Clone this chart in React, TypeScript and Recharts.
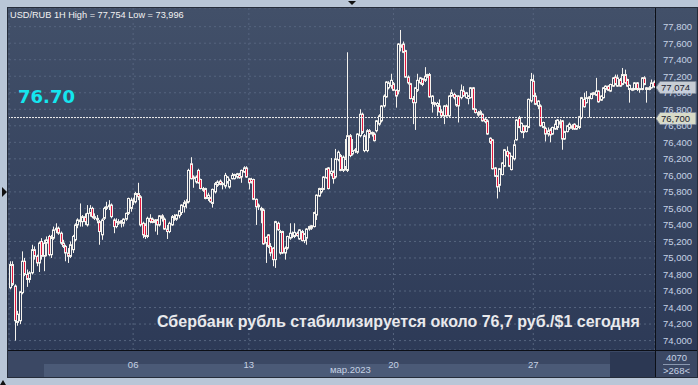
import React from 'react';
import { ComposedChart, Bar, XAxis, YAxis, CartesianGrid, ReferenceLine } from 'recharts';

// hourly candles, [open, high, low, close]
const feb27: number[][] = [
  [74.64, 74.96, 74.62, 74.92], [74.92, 74.96, 74.66, 74.68], [74.66, 74.68, 74.0, 74.24], [74.22, 74.36, 74.18, 74.32],
  [74.24, 74.6, 74.2, 74.59], [74.58, 75.08, 74.56, 74.96], [74.96, 75.0, 74.78, 74.8], [74.8, 74.86, 74.65, 74.74],
  [74.74, 74.84, 74.7, 74.82], [74.82, 75.16, 74.8, 75.1], [75.1, 75.14, 74.98, 75.02], [75.02, 75.04, 74.9, 74.94],
  [74.94, 75.2, 74.83, 75.18], [75.2, 75.24, 74.98, 75.02], [75.02, 75.22, 74.84, 75.18], [75.18, 75.26, 75.02, 75.22],
  [75.26, 75.28, 75.02, 75.04], [75.04, 75.28, 75.0, 75.24], [75.24, 75.38, 75.22, 75.34], [75.34, 75.42, 75.3, 75.36],
  [75.36, 75.38, 75.28, 75.3], [75.3, 75.32, 75.16, 75.18], [75.18, 75.22, 75.12, 75.14], [75.14, 75.16, 74.96, 75.06],
  [75.06, 75.12, 74.94, 75.02], [75.02, 75.2, 75.0, 75.16], [75.1, 75.28, 75.06, 75.26], [75.22, 75.42, 75.2, 75.4],
  [75.4, 75.48, 75.36, 75.46], [75.46, 75.66, 75.38, 75.44], [75.44, 75.52, 75.38, 75.5], [75.5, 75.54, 75.4, 75.44],
  [75.4, 75.64, 75.38, 75.54], [75.54, 75.64, 75.5, 75.6], [75.6, 75.62, 75.48, 75.5], [75.5, 75.54, 75.46, 75.48],
  [75.48, 75.52, 75.42, 75.46], [75.44, 75.46, 75.16, 75.32], [75.28, 75.48, 75.22, 75.46], [75.48, 75.62, 75.46, 75.6],
  [75.6, 75.68, 75.58, 75.62], [75.62, 75.7, 75.58, 75.64], [75.64, 75.66, 75.48, 75.5], [75.46, 75.48, 75.3, 75.38],
  [75.38, 75.48, 75.36, 75.44], [75.44, 75.47, 75.4, 75.42], [75.42, 75.46, 75.37, 75.45], [75.42, 75.48, 75.38, 75.47],
  [75.47, 75.55, 75.45, 75.54], [75.54, 75.73, 75.52, 75.72], [75.6, 75.73, 75.56, 75.7],
];

const mar06: number[][] = [
  [75.7, 75.73, 75.64, 75.68], [75.68, 75.8, 75.66, 75.78], [75.78, 75.91, 75.7, 75.74], [75.74, 75.76, 75.38, 75.4],
  [75.42, 75.44, 75.24, 75.28], [75.4, 75.42, 75.23, 75.26], [75.26, 75.5, 75.24, 75.48], [75.48, 75.53, 75.42, 75.44],
  [75.47, 75.49, 75.42, 75.43], [75.43, 75.47, 75.32, 75.46], [75.46, 75.47, 75.28, 75.4], [75.4, 75.52, 75.38, 75.51],
  [75.51, 75.53, 75.44, 75.48], [75.47, 75.49, 75.34, 75.35], [75.35, 75.4, 75.23, 75.32], [75.32, 75.44, 75.3, 75.42],
  [75.4, 75.52, 75.39, 75.5], [75.5, 75.53, 75.45, 75.47], [75.47, 75.53, 75.45, 75.52], [75.51, 75.58, 75.48, 75.57],
  [75.55, 75.65, 75.52, 75.64], [75.62, 75.7, 75.55, 75.67], [75.67, 75.71, 75.6, 75.68], [75.68, 76.08, 75.66, 76.06],
  [76.14, 76.22, 75.95, 75.96], [75.96, 76.0, 75.85, 75.98], [75.92, 76.0, 75.9, 75.98], [76.06, 76.08, 75.9, 75.91],
  [75.95, 75.96, 75.83, 75.84], [75.84, 75.86, 75.8, 75.82], [75.84, 75.85, 75.71, 75.72], [75.72, 75.79, 75.69, 75.76],
  [75.73, 75.74, 75.67, 75.68], [75.66, 75.84, 75.61, 75.83], [75.8, 75.92, 75.78, 75.9], [75.88, 75.94, 75.86, 75.92],
  [75.93, 75.95, 75.88, 75.89], [75.89, 75.92, 75.83, 75.9], [75.87, 76.03, 75.84, 76.0], [75.92, 75.99, 75.9, 75.98],
  [75.86, 75.96, 75.84, 75.94], [75.96, 76.03, 75.95, 76.0], [75.96, 76.02, 75.95, 76.01], [75.98, 76.03, 75.96, 76.02],
  [76.01, 76.03, 75.96, 75.97], [75.98, 76.07, 75.91, 76.06], [76.04, 76.11, 76.03, 76.09], [76.09, 76.11, 75.97, 75.98],
];

const mar13: number[][] = [
  [75.96, 75.97, 75.83, 75.91], [75.95, 75.97, 75.9, 75.92], [75.95, 75.96, 75.7, 75.71], [75.71, 75.72, 75.4, 75.62],
  [75.62, 75.66, 75.58, 75.64], [75.6, 75.62, 75.42, 75.58], [75.58, 75.6, 75.16, 75.17], [75.18, 75.26, 74.94, 75.25],
  [75.28, 75.29, 75.12, 75.14], [75.14, 75.18, 75.02, 75.06], [75.12, 75.13, 74.9, 74.98], [74.98, 75.45, 74.88, 75.44],
  [75.42, 75.44, 75.33, 75.34], [75.06, 75.34, 75.04, 75.32], [75.32, 75.33, 75.05, 75.06], [75.06, 75.14, 74.98, 75.12],
  [75.12, 75.27, 75.1, 75.26], [75.24, 75.42, 75.22, 75.3], [75.28, 75.32, 75.24, 75.26], [75.26, 75.42, 75.24, 75.31],
  [75.3, 75.32, 75.26, 75.27], [75.23, 75.35, 75.22, 75.34], [75.32, 75.34, 75.2, 75.21], [75.21, 75.3, 75.18, 75.29],
  [75.24, 75.36, 75.16, 75.35], [75.35, 75.39, 75.33, 75.38], [75.36, 75.4, 75.34, 75.39], [75.38, 75.56, 75.37, 75.55],
  [75.52, 75.77, 75.46, 75.76], [75.75, 75.85, 75.74, 75.84], [75.8, 75.85, 75.78, 75.84], [75.83, 75.99, 75.82, 75.98],
  [75.97, 76.09, 75.96, 76.08], [76.09, 76.1, 75.83, 75.84], [76.02, 76.21, 75.99, 76.05], [76.04, 76.06, 75.9, 75.96],
  [75.98, 76.32, 75.96, 76.2], [76.19, 76.3, 76.17, 76.28], [76.24, 76.26, 76.05, 76.06], [76.06, 76.24, 76.04, 76.22],
  [76.1, 76.44, 76.06, 76.2], [76.06, 77.49, 76.04, 76.48], [76.48, 76.5, 76.22, 76.24], [76.26, 76.44, 76.24, 76.3],
  [76.3, 76.33, 76.27, 76.31], [76.28, 76.51, 76.26, 76.5], [76.48, 76.8, 76.46, 76.74], [76.74, 76.76, 76.5, 76.52],
  [76.3, 76.5, 76.28, 76.48], [76.3, 76.56, 76.28, 76.54], [76.54, 76.56, 76.45, 76.5], [76.5, 76.53, 76.47, 76.52],
  [76.5, 76.52, 76.41, 76.42], [76.54, 76.67, 76.52, 76.66], [76.62, 76.74, 76.6, 76.72], [76.66, 76.85, 76.64, 76.84],
  [76.84, 76.98, 76.82, 76.96], [76.95, 77.14, 76.94, 77.13], [77.06, 77.14, 77.04, 77.12], [77.08, 77.23, 77.05, 77.15],
];

const mar20: number[][] = [
  [77.11, 77.13, 77.02, 77.03], [77.03, 77.04, 76.82, 76.96], [77.02, 77.6, 76.98, 77.59], [77.55, 77.76, 77.5, 77.58],
  [77.59, 77.62, 77.48, 77.49], [77.51, 77.52, 77.18, 77.19], [77.19, 77.21, 77.1, 77.12], [77.11, 77.12, 76.92, 76.93],
  [76.93, 76.96, 76.62, 76.88], [76.88, 77.07, 76.55, 77.06], [77.03, 77.23, 77.01, 77.15], [77.12, 77.19, 77.1, 77.18],
  [77.17, 77.18, 77.08, 77.1], [77.15, 77.31, 77.13, 77.2], [77.2, 77.23, 77.18, 77.22], [77.22, 77.24, 76.94, 76.95],
  [76.87, 76.97, 76.76, 76.96], [76.88, 76.89, 76.83, 76.86], [76.84, 76.89, 76.72, 76.87], [76.84, 76.92, 76.76, 76.77],
  [76.77, 76.8, 76.7, 76.72], [76.72, 76.85, 76.62, 76.84], [76.84, 76.86, 76.71, 76.72], [76.72, 76.97, 76.7, 76.96],
  [76.96, 77.04, 76.95, 77.0], [76.98, 77.0, 76.92, 76.94], [76.85, 76.97, 76.83, 76.96], [76.96, 76.97, 76.64, 76.84],
  [76.94, 77.1, 76.92, 77.03], [77.02, 77.08, 76.95, 76.96], [76.94, 77.01, 76.93, 77.0], [76.93, 76.97, 76.86, 76.96],
  [76.94, 77.07, 76.93, 77.06], [77.06, 77.07, 76.79, 76.8], [76.8, 76.81, 76.75, 76.76], [76.76, 76.78, 76.71, 76.73],
  [76.74, 76.79, 76.73, 76.77], [76.74, 76.75, 76.65, 76.66], [76.68, 76.7, 76.63, 76.65], [76.66, 76.68, 76.49, 76.5],
  [76.45, 76.46, 76.38, 76.4], [76.43, 76.44, 76.07, 76.08], [76.09, 76.1, 75.98, 75.99], [75.99, 76.0, 75.72, 75.86],
  [75.88, 76.09, 75.8, 76.08], [76.01, 76.16, 76.0, 76.15], [76.11, 76.32, 76.1, 76.31], [76.29, 76.35, 76.22, 76.24],
  [76.27, 76.28, 76.1, 76.11], [76.07, 76.24, 76.06, 76.23], [76.2, 76.43, 76.18, 76.37], [76.43, 76.68, 76.42, 76.67],
  [76.7, 76.72, 76.57, 76.58], [76.53, 76.64, 76.51, 76.63], [76.6, 76.61, 76.45, 76.52], [76.53, 76.61, 76.52, 76.6],
  [76.58, 76.93, 76.57, 76.92], [76.9, 77.24, 76.88, 77.16],
];

const mar27: number[][] = [
  [77.14, 77.22, 76.95, 76.96], [76.96, 77.0, 76.85, 76.86], [76.84, 76.91, 76.8, 76.9], [76.84, 76.86, 76.59, 76.6],
  [76.58, 76.65, 76.57, 76.64], [76.57, 76.59, 76.41, 76.5], [76.5, 76.58, 76.47, 76.54], [76.55, 76.57, 76.4, 76.49],
  [76.5, 76.59, 76.49, 76.58], [76.56, 76.67, 76.55, 76.62], [76.58, 76.68, 76.55, 76.67], [76.62, 76.68, 76.57, 76.65],
  [76.66, 76.67, 76.31, 76.44], [76.44, 76.54, 76.43, 76.53], [76.53, 76.61, 76.52, 76.6], [76.57, 76.64, 76.55, 76.62],
  [76.6, 76.62, 76.55, 76.57], [76.62, 76.63, 76.55, 76.56], [76.56, 76.61, 76.55, 76.6], [76.58, 76.72, 76.56, 76.71],
  [76.7, 76.95, 76.68, 76.94], [76.92, 77.0, 76.82, 76.83], [76.88, 77.02, 76.87, 76.94], [76.93, 76.96, 76.7, 76.95],
  [76.93, 77.0, 76.92, 76.99], [76.98, 77.01, 76.97, 77.0], [76.97, 77.18, 76.96, 77.02], [77.02, 77.03, 76.88, 76.89],
  [76.91, 76.97, 76.9, 76.96], [76.94, 77.07, 76.93, 77.06], [77.04, 77.09, 77.0, 77.08], [77.08, 77.09, 77.02, 77.03],
  [77.02, 77.11, 77.01, 77.1], [77.08, 77.19, 77.07, 77.18], [77.19, 77.22, 77.09, 77.1], [77.08, 77.22, 77.07, 77.18],
  [77.16, 77.18, 77.07, 77.08], [77.1, 77.3, 77.09, 77.22], [77.22, 77.28, 77.11, 77.12], [77.16, 77.17, 77.07, 77.08],
  [77.04, 77.1, 76.88, 77.09], [77.03, 77.06, 77.02, 77.05], [77.04, 77.13, 77.03, 77.12], [77.12, 77.13, 77.02, 77.04],
  [77.04, 77.06, 77.0, 77.05], [77.04, 77.19, 77.03, 77.18], [77.18, 77.2, 77.09, 77.1], [77.06, 77.07, 76.88, 77.04],
  [77.04, 77.08, 77.03, 77.06], [77.06, 77.16, 77.05, 77.12], [77.13, 77.15, 77.06, 77.07],
];

const dateTicks = [51, 99, 159, 217];
const dateLabels = ['06', '13', '20', '27'];
const priceTicks = [
  74.0, 74.2, 74.4, 74.6, 74.8, 75.0, 75.2, 75.4, 75.6, 75.8,
  76.0, 76.2, 76.4, 76.6, 76.8, 77.0, 77.2, 77.4, 77.6, 77.8,
];
const lastPrice = 77.074;
const markPrice = 76.7;

const candles = [...feb27, ...mar06, ...mar13, ...mar20, ...mar27].map(([o, h, l, c], i) => ({ i, o, h, l, c }));

const AXIS_FONT = '"Liberation Sans", Arial, sans-serif';
const labelColor = '#c6d2e5';

const Candle = (props: any) => {
  const { x, y, width, height, payload } = props;
  const { o, h, l, c } = payload;
  const top = Math.min(y, y + height);
  const span = Math.abs(height);
  const cx = Math.round(x + width / 2) + 0.5;
  const py = (v: number) => top + ((h - v) / (h - l)) * span;
  const bTop = py(Math.max(o, c));
  const bBot = py(Math.min(o, c));
  const down = c < o;
  return (
    <g>
      <line x1={cx} x2={cx} y1={top} y2={top + span} stroke="#f5f3ee" strokeWidth={1} />
      <rect x={cx - 1} y={bTop} width={2} height={Math.max(bBot - bTop, 1)}
        fill={down ? '#e3173e' : '#34415d'} stroke="#f5f3ee" strokeWidth={1} />
    </g>
  );
};

const PriceTag = (props: any) => {
  const { viewBox, text, fill } = props;
  const x = viewBox.x + viewBox.width;
  const y = Math.round(viewBox.y) + 0.5;
  return (
    <g>
      <path d={`M${x + 1} ${y} L${x + 5} ${y - 6} H${x + 41} V${y + 6} H${x + 5} Z`} fill={fill} stroke="#7d8798" />
      <text x={x + 6} y={y + 3.5} fontSize={9.5} fill="#1c2130" fontFamily={AXIS_FONT}>{text}</text>
    </g>
  );
};

export default function App() {
  return (
    <div style={{ position: 'absolute', left: 0, top: 0, width: 698, height: 385, background: '#b9c6d7', overflow: 'hidden', fontFamily: AXIS_FONT }}>
      {/* panel backgrounds */}
      <div style={{ position: 'absolute', left: 7, top: 7, width: 689, height: 343, background: 'linear-gradient(to bottom, #425069, #2d3a57)', border: '1px solid #252c3a', borderBottom: 'none' }} />
      <div style={{ position: 'absolute', left: 7, top: 350, width: 689, height: 27, background: '#3b4864', border: '1px solid #252c3a', borderTop: 'none' }} />
      <div style={{ position: 'absolute', left: 44, top: 364, width: 566, height: 13, background: '#4b5a77' }} />
      <div style={{ position: 'absolute', left: 610, top: 352, width: 45, height: 25, background: '#2c3853' }} />

      <div style={{ position: 'absolute', left: 8, top: 8 }}>
        <ComposedChart width={690} height={370} data={candles} margin={{ top: 0, right: 0, bottom: 0, left: 1 }}>
          <CartesianGrid stroke="#56657f" strokeDasharray="2 3" />
          <XAxis dataKey="i" type="number" domain={[-0.5, 267.5]} allowDataOverflow ticks={dateTicks}
            tickFormatter={(v: number) => dateLabels[dateTicks.indexOf(v)]} interval={0}
            height={28} axisLine={false} tickLine={false} tickMargin={5}
            tick={{ fill: labelColor, fontSize: 9.5, fontFamily: AXIS_FONT }} />
          <YAxis orientation="right" width={43} type="number" domain={[73.886, 78.026]} allowDataOverflow
            ticks={priceTicks} interval={0} axisLine={false} tickLine={false} tickMargin={2}
            tickFormatter={(v: number) => v.toFixed(3).replace('.', ',')}
            tick={{ fill: labelColor, fontSize: 9.5, fontFamily: AXIS_FONT }} />
          <Bar dataKey={(d: any) => [d.l, d.h]} barSize={2} shape={<Candle />} isAnimationActive={false} />
          <ReferenceLine y={markPrice} stroke="#eeeeee" strokeDasharray="2 1" label={<PriceTag text="76,700" fill="#d9dbc8" />} />
          <ReferenceLine y={lastPrice} stroke="none" label={<PriceTag text="77,074" fill="#c8cdd5" />} />
        </ComposedChart>
      </div>

      {/* frame lines */}
      <div style={{ position: 'absolute', left: 8, top: 350, width: 689, height: 1, background: '#0c0f16' }} />
      <div style={{ position: 'absolute', left: 655, top: 8, width: 1, height: 369, background: '#0c0f16' }} />

      <div style={{ position: 'absolute', left: 10, top: 10, fontSize: 9.2, lineHeight: '10px', color: '#f2f2f2', whiteSpace: 'nowrap' }}>
        USD/RUB 1H High = 77,754 Low = 73,996
      </div>
      <div style={{ position: 'absolute', left: 18, top: 87, fontSize: 18, lineHeight: '20px', fontWeight: 'bold', color: '#14e6ef', fontFamily: '"DejaVu Sans", sans-serif' }}>
        76.70
      </div>
      <div style={{ position: 'absolute', left: 157, top: 312, fontSize: 16, lineHeight: '20px', fontWeight: 'bold', color: '#e9e9ec', whiteSpace: 'nowrap' }}>
        Сбербанк рубль стабилизируется около 76,7 руб./$1 сегодня
      </div>

      <div style={{ position: 'absolute', left: 330, top: 364, width: 40, textAlign: 'center', fontSize: 9.5, lineHeight: '12px', color: labelColor }}>мар.2023</div>
      <div style={{ position: 'absolute', left: 656, top: 352, width: 41, textAlign: 'center', fontSize: 9.5, lineHeight: '12px', color: labelColor }}>4070</div>
      <div style={{ position: 'absolute', left: 663, top: 364, width: 27, height: 1, background: '#8a98b0' }} />
      <div style={{ position: 'absolute', left: 656, top: 365, width: 41, textAlign: 'center', fontSize: 9.5, lineHeight: '12px', color: labelColor }}>&gt;268&lt;</div>

      <svg width={698} height={385} style={{ position: 'absolute', left: 0, top: 0, pointerEvents: 'none' }}>
        <polygon points="348,1 356,1 352,5" fill="#111" />
        <polygon points="2,187 7,192 2,197" fill="#111" />
        <polygon points="0,385 3,380 6,385" fill="#111" />
      </svg>
    </div>
  );
}
